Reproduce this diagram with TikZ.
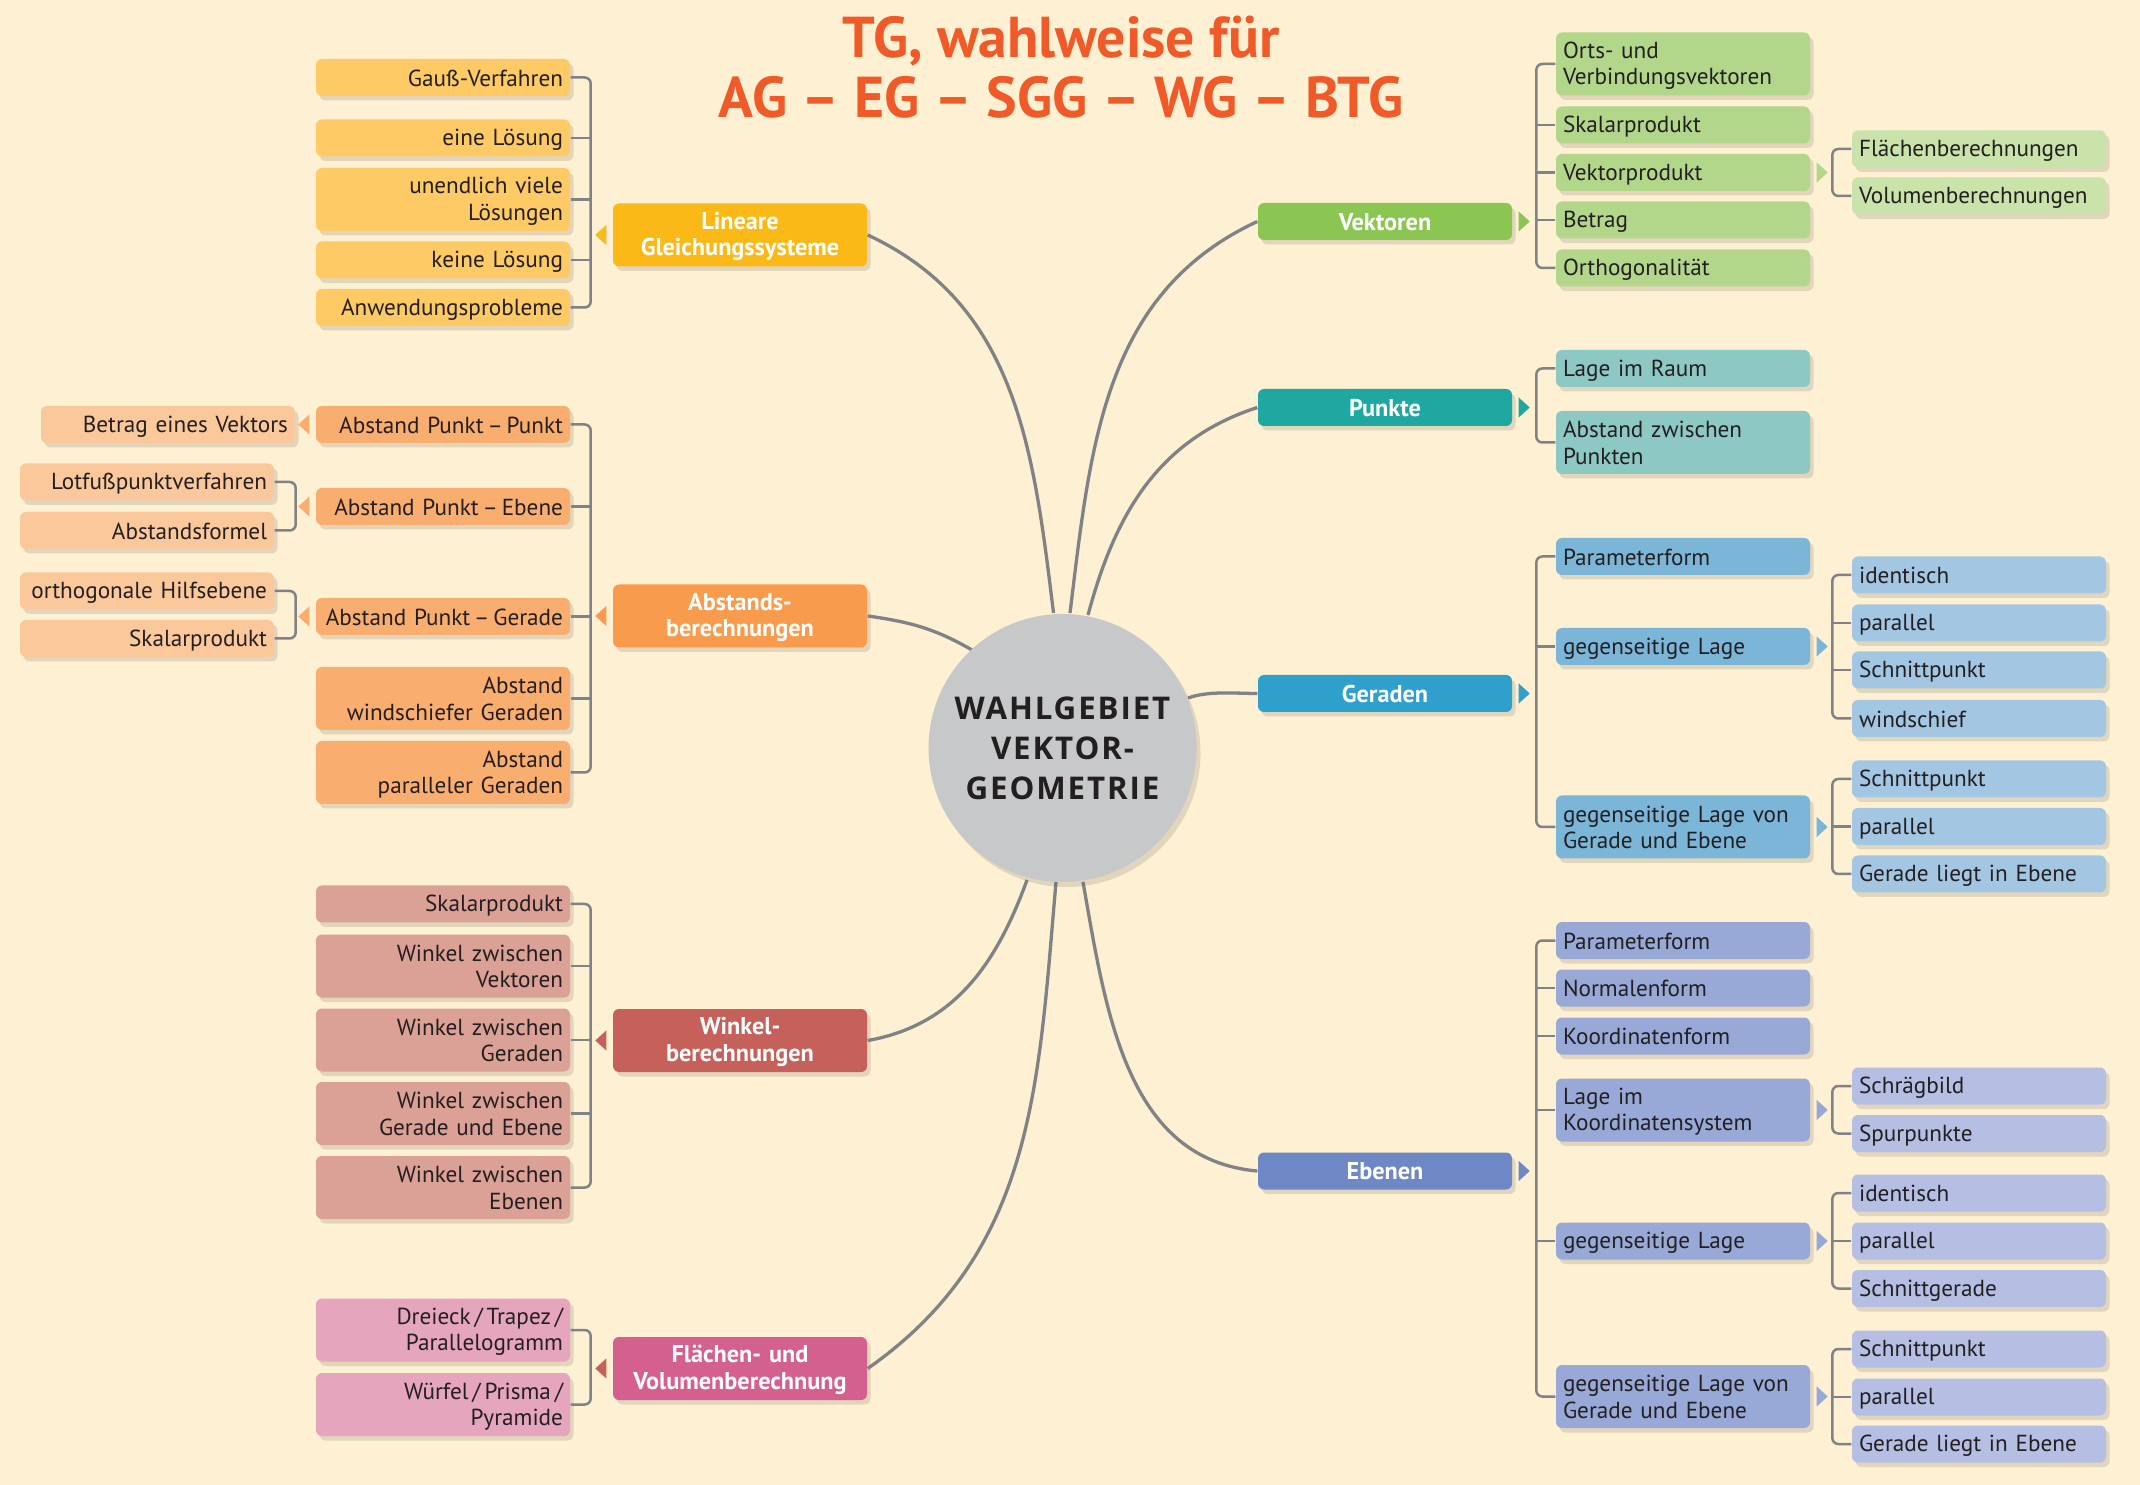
\documentclass[tikz,border=0pt]{standalone}
\usepackage{fontspec}
\setmainfont{PT Sans}
\newfontfamily\circlefont{Open Sans}[LetterSpace=6]
\usetikzlibrary{shadows}
\definecolor{paper}{HTML}{FEF0D2}
\definecolor{wire}{HTML}{808285}
\definecolor{ink}{HTML}{231F20}
\definecolor{headline}{HTML}{EF5A28}
\definecolor{circ}{HTML}{C7C8CA}
\definecolor{lgsM}{HTML}{FBB917}
\definecolor{lgsL}{HTML}{FDCA66}
\definecolor{absM}{HTML}{F89B4C}
\definecolor{absL}{HTML}{F9AE70}
\definecolor{absS}{HTML}{FBC89C}
\definecolor{wnkM}{HTML}{C6605A}
\definecolor{wnkL}{HTML}{DBA096}
\definecolor{fvbM}{HTML}{D3608F}
\definecolor{fvbL}{HTML}{E5A5BD}
\definecolor{vekM}{HTML}{8BC653}
\definecolor{vekL}{HTML}{B2D68A}
\definecolor{vekS}{HTML}{CAE3AA}
\definecolor{pktM}{HTML}{1FA8A1}
\definecolor{pktL}{HTML}{8DC8C5}
\definecolor{gerM}{HTML}{2FA0CC}
\definecolor{gerL}{HTML}{7BB5D8}
\definecolor{gerS}{HTML}{A3C7E3}
\definecolor{ebeM}{HTML}{6E87C5}
\definecolor{ebeL}{HTML}{98A9D7}
\definecolor{ebeS}{HTML}{B5BFE4}
\newcommand\boxstrut{\rule[-0.85pt]{0pt}{6.6pt}}

\begin{document}
\begin{tikzpicture}[
    box/.style  = {rectangle, rounded corners=0.6mm, inner sep=0pt, minimum width=2.54cm,
                   minimum height=0.37cm, text width=2.40cm, text=ink,
                   font=\fontsize{6.6}{7.5}\selectfont,
                   execute at begin node=\boxstrut, execute at end node=\boxstrut,
                   drop shadow={shadow xshift=0.35mm, shadow yshift=-0.45mm,
                                opacity=0.16, fill=black!70}},
    lbox/.style = {box, align=right},
    rbox/.style = {box, align=left},
    hub/.style  = {box, align=center, text=white,
                   font=\fontsize{6.9}{7.6}\selectfont\bfseries},
    tall/.style = {minimum height=0.63cm},
    brk/.style  = {draw=wire, line width=0.25mm, rounded corners=0.6mm},
    link/.style = {draw=wire, line width=0.33mm},
    tipl/.pic   = {\fill[pic actions] (-0.06,0.10) -- (-0.17,0) -- (-0.06,-0.10) -- cycle;},
    tipr/.pic   = {\fill[pic actions] (0.06,0.10) -- (0.17,0) -- (0.06,-0.10) -- cycle;}
  ]
  % Background
  \fill[paper] (0,0) rectangle (21.40,-14.85);
  \useasboundingbox (0,0) rectangle (21.40,-14.85);

  % Title
  \node[font=\fontsize{16.4}{17}\selectfont\bfseries, text=headline, align=center]
    (title) at (10.61,-0.675) {TG, wahlweise für\\AG – EG – SGG – WG – BTG};

  % Main branches
  \node[hub, tall, fill=lgsM] (lgs) at ( 7.40, -2.35)  {Lineare\\Gleichungssysteme};
  \node[hub, tall, fill=absM] (abs) at ( 7.40, -6.16)  {Abstands-\\berechnungen};
  \node[hub, tall, fill=wnkM] (wnk) at ( 7.40,-10.405) {Winkel-\\berechnungen};
  \node[hub, tall, fill=fvbM] (fvb) at ( 7.40,-13.685) {Flächen- und\\Volumenberechnung};
  \node[hub, fill=vekM]       (vek) at (13.85, -2.215) {Vektoren};
  \node[hub, fill=pktM]       (pkt) at (13.85, -4.075) {Punkte};
  \node[hub, fill=gerM]       (ger) at (13.85, -6.935) {Geraden};
  \node[hub, fill=ebeM]       (ebe) at (13.85,-11.71)  {Ebenen};

  % Curves to the centre
  \draw[link] (lgs.east) to[out=-25, in=97]  (10.535,-6.13);
  \draw[link] (abs.east) to[out=-8,  in=150] (9.72,-6.50);
  \draw[link] (wnk.east) to[out=10,  in=250] (10.27,-8.80);
  \draw[link] (fvb.east) to[out=35,  in=265] (10.56,-8.82);
  \draw[link] (vek.west) to[out=205, in=83]  (10.70,-6.13);
  \draw[link] (pkt.west) to[out=198, in=75]  (10.88,-6.15);
  \draw[link] (ger.west) to[out=180, in=20, looseness=0.8] (11.88,-6.98);
  \draw[link] (ebe.west) to[out=175, in=280] (10.83,-8.82);

  % Central topic
  \node[circle, fill=circ, minimum size=2.68cm, inner sep=0pt, text=ink, align=center,
        font=\circlefont\bfseries\fontsize{8.9}{11.4}\selectfont,
        drop shadow={shadow xshift=0.4mm, shadow yshift=-0.5mm, opacity=0.16, fill=black!70}]
    (c) at (10.625,-7.48) {WAHLGEBIET\\VEKTOR-\\GEOMETRIE};

  % Lineare Gleichungssysteme
  \node[lbox, fill=lgsL]       (lgs1) at (4.43,-0.775) {Gauß-Verfahren};
  \node[lbox, fill=lgsL]       (lgs2) at (4.43,-1.38)  {eine Lösung};
  \node[lbox, tall, fill=lgsL] (lgs3) at (4.43,-1.995) {unendlich viele\\Lösungen};
  \node[lbox, fill=lgsL]       (lgs4) at (4.43,-2.60)  {keine Lösung};
  \node[lbox, fill=lgsL]       (lgs5) at (4.43,-3.075) {Anwendungsprobleme};
  \draw[brk] (lgs1.east) -- ++(0.20,0) |- (lgs5.east);
  \foreach \i in {2,3,4} \draw[brk] (lgs\i.east) -- ++(0.20,0);
  \pic[fill=lgsM] at (lgs.west) {tipl};

  % Abstandsberechnungen
  \node[lbox, fill=absL]       (abs1) at (4.43,-4.245) {Abstand Punkt\,–\,Punkt};
  \node[lbox, fill=absL]       (abs2) at (4.43,-5.065) {Abstand Punkt\,–\,Ebene};
  \node[lbox, fill=absL]       (abs3) at (4.43,-6.165) {Abstand Punkt\,–\,Gerade};
  \node[lbox, tall, fill=absL] (abs4) at (4.43,-6.985) {Abstand\\windschiefer Geraden};
  \node[lbox, tall, fill=absL] (abs5) at (4.43,-7.725) {Abstand\\paralleler Geraden};
  \draw[brk] (abs1.east) -- ++(0.20,0) |- (abs5.east);
  \foreach \i in {2,3,4} \draw[brk] (abs\i.east) -- ++(0.20,0);
  \pic[fill=absM] at (abs.west) {tipl};

  \node[lbox, fill=absS] (abs1a) at (1.68,-4.245) {Betrag eines Vektors};
  \node[lbox, fill=absS] (abs2a) at (1.47,-4.82)  {Lotfußpunktverfahren};
  \node[lbox, fill=absS] (abs2b) at (1.47,-5.305) {Abstandsformel};
  \node[lbox, fill=absS] (abs3a) at (1.47,-5.91)  {orthogonale Hilfsebene};
  \node[lbox, fill=absS] (abs3b) at (1.47,-6.385) {Skalarprodukt};
  \draw[brk] (abs2a.east) -- ++(0.21,0) |- (abs2b.east);
  \draw[brk] (abs3a.east) -- ++(0.21,0) |- (abs3b.east);
  \pic[fill=absL] at (abs1.west) {tipl};
  \pic[fill=absL] at (abs2.west) {tipl};
  \pic[fill=absL] at (abs3.west) {tipl};

  % Winkelberechnungen
  \node[lbox, fill=wnkL]       (wnk1) at (4.43,-9.04)   {Skalarprodukt};
  \node[lbox, tall, fill=wnkL] (wnk2) at (4.43,-9.66)   {Winkel zwischen\\Vektoren};
  \node[lbox, tall, fill=wnkL] (wnk3) at (4.43,-10.40)  {Winkel zwischen\\Geraden};
  \node[lbox, tall, fill=wnkL] (wnk4) at (4.43,-11.135) {Winkel zwischen\\Gerade und Ebene};
  \node[lbox, tall, fill=wnkL] (wnk5) at (4.43,-11.875) {Winkel zwischen\\Ebenen};
  \draw[brk] (wnk1.east) -- ++(0.20,0) |- (wnk5.east);
  \foreach \i in {2,3,4} \draw[brk] (wnk\i.east) -- ++(0.20,0);
  \pic[fill=wnkM] at (wnk.west) {tipl};

  % Flaechen- und Volumenberechnung
  \node[lbox, tall, fill=fvbL] (fvb1) at (4.43,-13.30)  {Dreieck\,/\,Trapez\,/\\Parallelogramm};
  \node[lbox, tall, fill=fvbL] (fvb2) at (4.43,-14.045) {Würfel\,/\,Prisma\,/\\Pyramide};
  \draw[brk] (fvb1.east) -- ++(0.20,0) |- (fvb2.east);
  \pic[fill=wnkM] at (fvb.west) {tipl};

  % Vektoren
  \node[rbox, tall, fill=vekL] (vek1) at (16.83,-0.64)  {Orts- und\\Verbindungsvektoren};
  \node[rbox, fill=vekL]       (vek2) at (16.83,-1.25)  {Skalarprodukt};
  \node[rbox, fill=vekL]       (vek3) at (16.83,-1.725) {Vektorprodukt};
  \node[rbox, fill=vekL]       (vek4) at (16.83,-2.20)  {Betrag};
  \node[rbox, fill=vekL]       (vek5) at (16.83,-2.68)  {Orthogonalität};
  \draw[brk] (vek1.west) -- ++(-0.19,0) |- (vek5.west);
  \foreach \i in {2,3,4} \draw[brk] (vek\i.west) -- ++(-0.19,0);
  \pic[fill=vekM] at (vek.east) {tipr};
  \node[rbox, fill=vekS] (vek3a) at (19.79,-1.49) {Flächenberechnungen};
  \node[rbox, fill=vekS] (vek3b) at (19.79,-1.96) {Volumenberechnungen};
  \draw[brk] (vek3a.west) -- ++(-0.19,0) |- (vek3b.west);
  \pic[fill=vekL] at (vek3.east) {tipr};

  % Punkte
  \node[rbox, fill=pktL]       (pkt1) at (16.83,-3.685) {Lage im Raum};
  \node[rbox, tall, fill=pktL] (pkt2) at (16.83,-4.425) {Abstand zwischen\\Punkten};
  \draw[brk] (pkt1.west) -- ++(-0.19,0) |- (pkt2.west);
  \pic[fill=pktM] at (pkt.east) {tipr};

  % Geraden
  \node[rbox, fill=gerL]       (ger1) at (16.83,-5.565) {Parameterform};
  \node[rbox, fill=gerL]       (ger2) at (16.83,-6.465) {gegenseitige Lage};
  \node[rbox, tall, fill=gerL] (ger3) at (16.83,-8.27)  {gegenseitige Lage von\\Gerade und Ebene};
  \draw[brk] (ger1.west) -- ++(-0.19,0) |- (ger3.west);
  \draw[brk] (ger2.west) -- ++(-0.19,0);
  \pic[fill=gerM] at (ger.east) {tipr};

  \node[rbox, fill=gerS] (ger2a) at (19.79,-5.75)  {identisch};
  \node[rbox, fill=gerS] (ger2b) at (19.79,-6.23)  {parallel};
  \node[rbox, fill=gerS] (ger2c) at (19.79,-6.70)  {Schnittpunkt};
  \node[rbox, fill=gerS] (ger2d) at (19.79,-7.185) {windschief};
  \draw[brk] (ger2a.west) -- ++(-0.19,0) |- (ger2d.west);
  \foreach \i in {b,c} \draw[brk] (ger2\i.west) -- ++(-0.19,0);
  \pic[fill=gerL] at (ger2.east) {tipr};

  \node[rbox, fill=gerS] (ger3a) at (19.79,-7.79)  {Schnittpunkt};
  \node[rbox, fill=gerS] (ger3b) at (19.79,-8.265) {parallel};
  \node[rbox, fill=gerS] (ger3c) at (19.79,-8.74)  {Gerade liegt in Ebene};
  \draw[brk] (ger3a.west) -- ++(-0.19,0) |- (ger3c.west);
  \draw[brk] (ger3b.west) -- ++(-0.19,0);
  \pic[fill=gerL] at (ger3.east) {tipr};

  % Ebenen
  \node[rbox, fill=ebeL]       (ebe1) at (16.83,-9.405)  {Parameterform};
  \node[rbox, fill=ebeL]       (ebe2) at (16.83,-9.88)   {Normalenform};
  \node[rbox, fill=ebeL]       (ebe3) at (16.83,-10.36)  {Koordinatenform};
  \node[rbox, tall, fill=ebeL] (ebe4) at (16.83,-11.10)  {Lage im\\Koordinatensystem};
  \node[rbox, fill=ebeL]       (ebe5) at (16.83,-12.41)  {gegenseitige Lage};
  \node[rbox, tall, fill=ebeL] (ebe6) at (16.83,-13.965) {gegenseitige Lage von\\Gerade und Ebene};
  \draw[brk] (ebe1.west) -- ++(-0.19,0) |- (ebe6.west);
  \foreach \i in {2,3,4,5} \draw[brk] (ebe\i.west) -- ++(-0.19,0);
  \pic[fill=ebeM] at (ebe.east) {tipr};

  \node[rbox, fill=ebeS] (ebe4a) at (19.79,-10.86)  {Schrägbild};
  \node[rbox, fill=ebeS] (ebe4b) at (19.79,-11.335) {Spurpunkte};
  \draw[brk] (ebe4a.west) -- ++(-0.19,0) |- (ebe4b.west);
  \pic[fill=ebeL] at (ebe4.east) {tipr};

  \node[rbox, fill=ebeS] (ebe5a) at (19.79,-11.93)  {identisch};
  \node[rbox, fill=ebeS] (ebe5b) at (19.79,-12.41)  {parallel};
  \node[rbox, fill=ebeS] (ebe5c) at (19.79,-12.885) {Schnittgerade};
  \draw[brk] (ebe5a.west) -- ++(-0.19,0) |- (ebe5c.west);
  \draw[brk] (ebe5b.west) -- ++(-0.19,0);
  \pic[fill=ebeL] at (ebe5.east) {tipr};

  \node[rbox, fill=ebeS] (ebe6a) at (19.79,-13.49) {Schnittpunkt};
  \node[rbox, fill=ebeS] (ebe6b) at (19.79,-13.97) {parallel};
  \node[rbox, fill=ebeS] (ebe6c) at (19.79,-14.44) {Gerade liegt in Ebene};
  \draw[brk] (ebe6a.west) -- ++(-0.19,0) |- (ebe6c.west);
  \draw[brk] (ebe6b.west) -- ++(-0.19,0);
  \pic[fill=ebeL] at (ebe6.east) {tipr};
\end{tikzpicture}
\end{document}
